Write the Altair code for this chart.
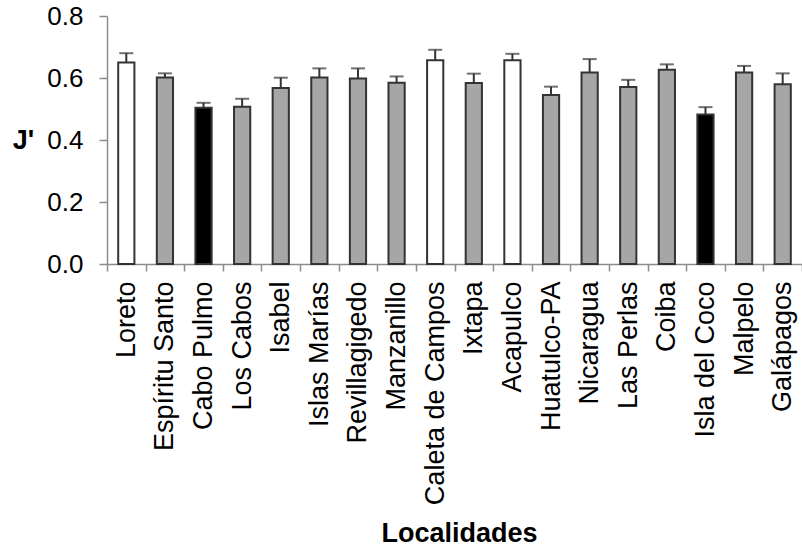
import altair as alt
import pandas as pd

# Evenness (J') per locality, mean and upper error
localidades = [
    "Loreto", "Espíritu Santo", "Cabo Pulmo", "Los Cabos", "Isabel",
    "Islas Marías", "Revillagigedo", "Manzanillo", "Caleta de Campos",
    "Ixtapa", "Acapulco", "Huatulco-PA", "Nicaragua", "Las Perlas",
    "Coiba", "Isla del Coco", "Malpelo", "Galápagos",
]
media = [0.650, 0.602, 0.504, 0.507, 0.568, 0.602, 0.598, 0.585, 0.657,
         0.584, 0.657, 0.545, 0.618, 0.571, 0.627, 0.482, 0.618, 0.580]
error = [0.030, 0.013, 0.016, 0.026, 0.033, 0.029, 0.033, 0.020, 0.034,
         0.030, 0.021, 0.027, 0.043, 0.023, 0.017, 0.024, 0.021, 0.035]
grupo = ["abierto", "gris", "negro", "gris", "gris", "gris", "gris", "gris",
         "abierto", "gris", "abierto", "gris", "gris", "gris", "gris",
         "negro", "gris", "gris"]

df = pd.DataFrame({
    "loc": localidades,
    "media": media,
    "sup": [m + e for m, e in zip(media, error)],
    "grupo": grupo,
})

FONT = "Liberation Sans"
AXIS_GREY = "#8c8c8c"
DARK = "#333333"

x_enc = alt.X(
    "loc:N",
    sort=localidades,
    scale=alt.Scale(paddingInner=0, paddingOuter=0),
    axis=alt.Axis(
        title="Localidades",
        titleFont=FONT, titleFontSize=27, titleFontWeight="bold",
        titleColor="#000000", titleX=352, titleY=269,
        titleAlign="center", titleBaseline="middle",
        labelAngle=-90, labelFont=FONT, labelFontSize=27,
        labelColor="#000000", labelPadding=10, labelOverlap=False,
        labelLimit=0, tickBand="extent", tickSize=7,
        tickColor=AXIS_GREY, domainColor=AXIS_GREY, tickWidth=1.5,
        domainWidth=1.5,
    ),
)

y_scale = alt.Scale(domain=[0, 0.8], nice=False)

bars = alt.Chart(df).mark_bar(
    width=alt.RelativeBandSize(0.42), stroke=DARK, strokeWidth=2
).encode(
    x=x_enc,
    y=alt.Y(
        "media:Q",
        scale=y_scale,
        axis=alt.Axis(
            title="J'", titleAngle=0, titleX=-84, titleY=124,
            titleAlign="center", titleBaseline="middle",
            titleFont=FONT, titleFontSize=27, titleFontWeight="bold",
            titleColor="#000000",
            values=[0, 0.2, 0.4, 0.6, 0.8], format=".1f",
            labelFont=FONT, labelFontSize=26, labelColor="#000000",
            labelPadding=16, tickSize=8, tickColor=AXIS_GREY,
            domainColor=AXIS_GREY, tickWidth=1.5, domainWidth=1.5,
            grid=False,
        ),
    ),
    color=alt.Color(
        "grupo:N",
        scale=alt.Scale(domain=["abierto", "gris", "negro"],
                        range=["#ffffff", "#a6a6a6", "#000000"]),
        legend=None,
    ),
)

stems = alt.Chart(df).mark_rule(color=DARK, strokeWidth=2).encode(
    x=alt.X("loc:N", sort=localidades),
    y=alt.Y("media:Q", scale=y_scale),
    y2="sup:Q",
)

caps = alt.Chart(df).mark_tick(
    orient="horizontal", size=14, thickness=2, color=DARK
).encode(
    x=alt.X("loc:N", sort=localidades),
    y=alt.Y("sup:Q", scale=y_scale),
)

chart = alt.layer(bars, stems, caps).properties(
    width=695,
    height=248,
    autosize=alt.AutoSizeParams(type="none"),
    padding={"left": 107, "top": 16, "right": 0, "bottom": 284},
    background="#ffffff",
).configure_view(stroke=None)

chart.save("out.html", embed_options={"renderer": "svg", "actions": False})
